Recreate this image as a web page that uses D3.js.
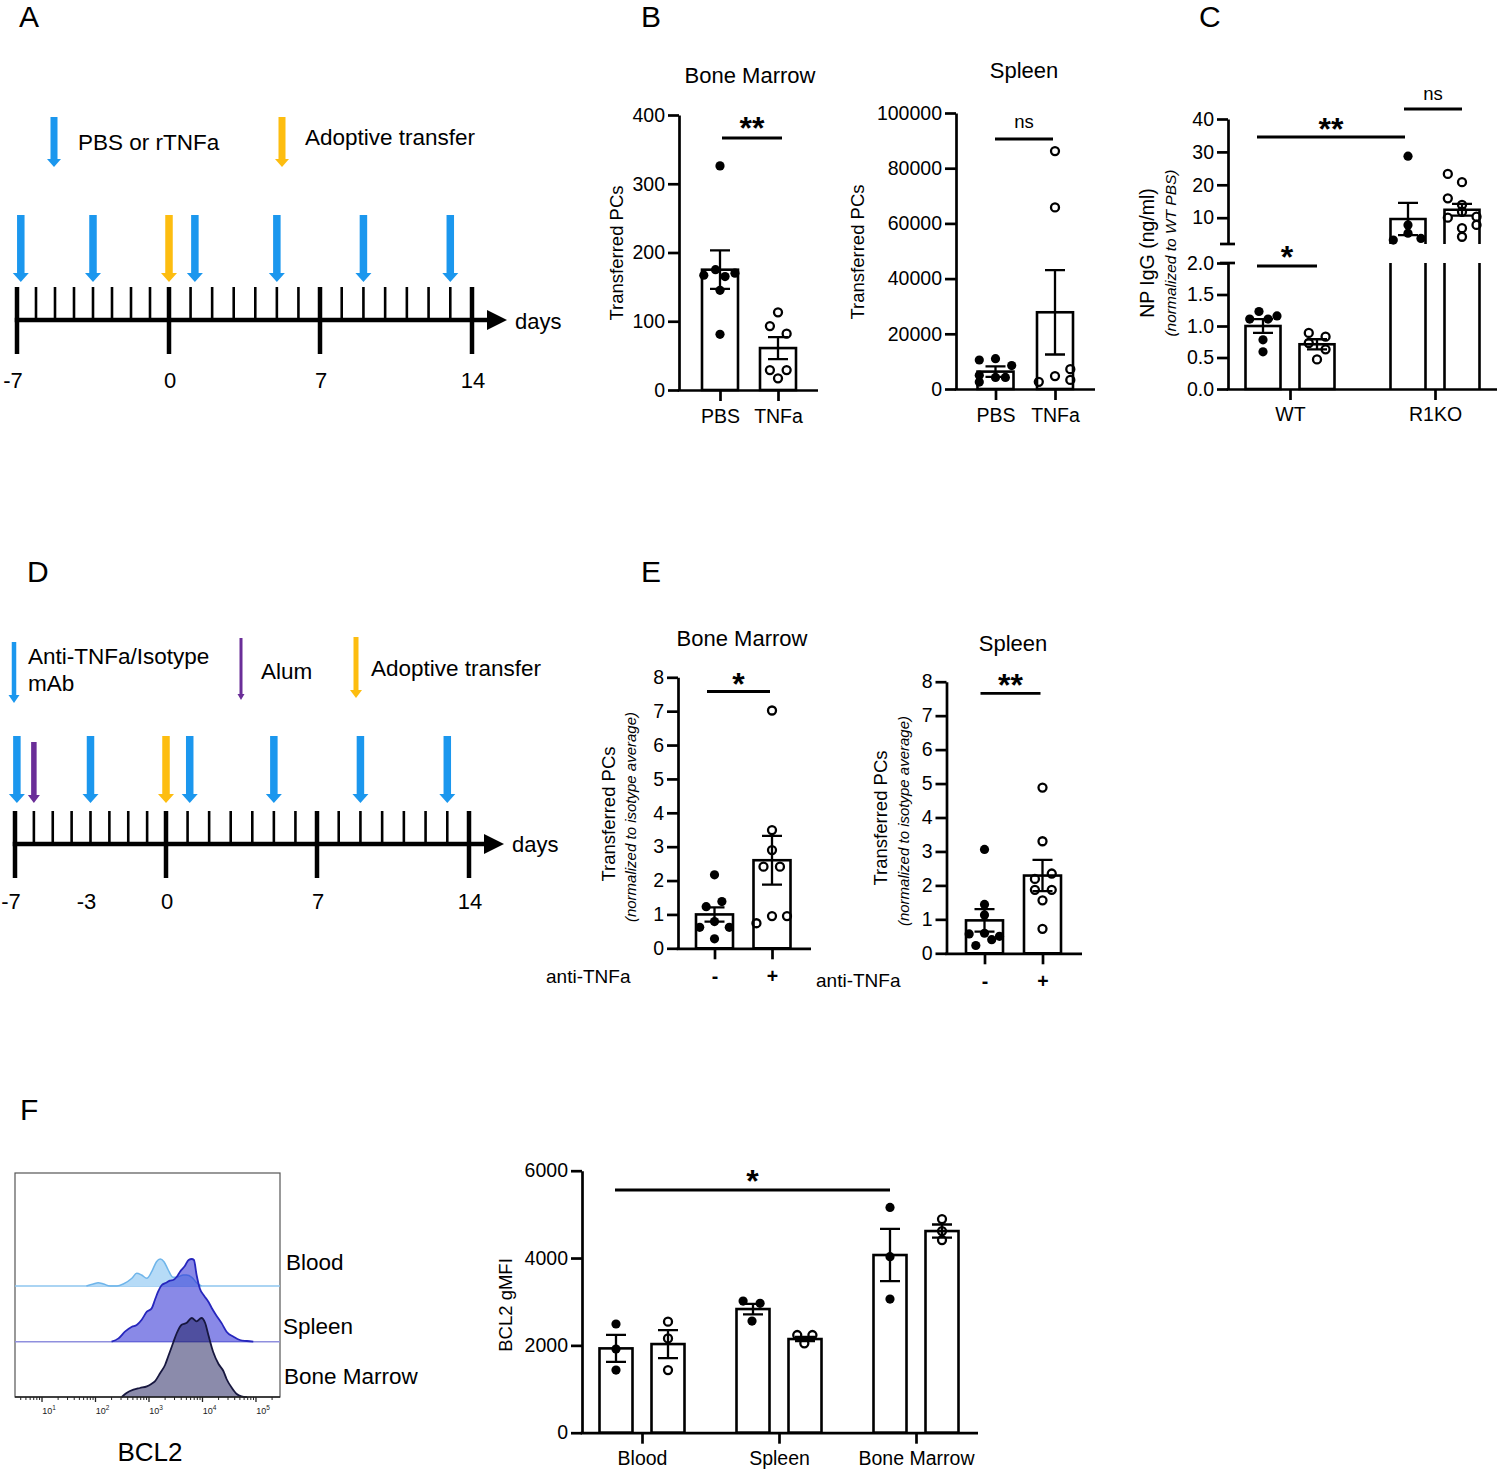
<!DOCTYPE html>
<html>
<head>
<meta charset="utf-8">
<script src="https://cdn.jsdelivr.net/npm/d3@7/dist/d3.min.js"></script>
<style>
html,body{margin:0;padding:0;background:#fff;}
svg{display:block;}
</style>
</head>
<body>
<svg id="fig" width="1500" height="1469" xmlns="http://www.w3.org/2000/svg"></svg>
<script>
// ================= DATA =================
// Timelines (A and D): tick index 0..22, majors at index 0,8,15,22
const tlMajorIdx = [0, 8, 15, 22];
const tlLabelsA = ["-7", "0", "7", "14"];
const tlLabelIdxA = [0, 8, 15, 22];
const tlLabelsD = ["-7", "-3", "0", "7", "14"];
const tlLabelIdxD = [0, 4, 8, 15, 22];
const aBlueIdx = [0.2, 4, 9.2, 13, 17, 21];
const aYellowIdx = [8];
const dBlueIdx = [0.1, 4, 9.1, 13, 17, 21];
const dPurpleIdx = [1];
const dYellowIdx = [8];

// Panel B
const bGroups = ["PBS", "TNFa"];
const bBmTicks = [0, 100, 200, 300, 400];
const bBmMean = [175, 61];
const bBmSem = [28, 16];
const bBmPbs = [326, 167, 175, 165, 170, 145, 81];
const bBmPbsJit = [0, -0.9, -0.25, 0.28, 0.83, 0, 0];
const bBmTnf = [113, 93, 82, 29, 29, 17];
const bBmTnfJit = [0, -0.45, 0.48, -0.45, 0.48, 0];

const bSpTicks = [0, 20000, 40000, 60000, 80000, 100000];
const bSpMean = [6300, 27800];
const bSpSem = [1900, 15300];
const bSpPbs = [10500, 11000, 8500, 5000, 4200, 4200, 2500];
const bSpPbsJit = [-0.9, 0, 0.9, -0.9, 0, 0.55, -0.9];
const bSpTnf = [86200, 65800, 2600, 4700, 7200, 3300];
const bSpTnfJit = [0, 0, -0.9, 0, 0.85, 0.85];

// Panel C
const cGroups = ["WT", "R1KO"];
const cSub = ["PBS", "TNFa"];
const cLowTicks = [0, 0.5, 1.0, 1.5, 2.0];
const cHighTicks = [10, 20, 30, 40];
const cWtMean = [1.0, 0.71];
const cWtSem = [0.11, 0.08];
const cKoMean = [9.6, 12.4];
const cKoSem = [4.9, 1.8];
const cWtPbs = [1.23, 1.11, 1.11, 1.16, 0.78, 0.59];
const cWtPbsJit = [-0.23, -0.76, 0.29, 0.8, 0, 0];
const cWtTnf = [0.89, 0.83, 0.73, 0.63, 0.47];
const cWtTnfJit = [-0.47, 0.49, -0.47, 0.49, 0];
const cKoPbs = [28.7, 7.8, 5.3, 3.2, 3.7];
const cKoPbsJit = [0, 0, 0, -0.84, 0.74];
const cKoTnf = [23.3, 20.8, 15.9, 13.9, 11.8, 10.0, 10.3, 7.8, 6.8, 4.2];
const cKoTnfJit = [-0.81, 0, -0.81, 0, 0, -0.81, 0.83, 0.83, 0, 0];

// Panel E
const eSub = ["-", "+"];
const eTicks = [0, 1, 2, 3, 4, 5, 6, 7, 8];
const eBmMean = [1.0, 2.6];
const eBmSem = [0.21, 0.72];
const eBmMinus = [2.17, 1.23, 1.38, 0.62, 0.62, 0.79, 0.28];
const eBmMinusJit = [0, -0.45, 0.4, -0.8, 0.8, 0, 0];
const eBmPlus = [7.02, 3.49, 2.9, 2.41, 2.41, 0.74, 0.95, 0.95];
const eBmPlusJit = [0, 0, 0, -0.46, 0.43, -0.84, 0, 0.81];
const eSpMean = [0.97, 2.29];
const eSpSem = [0.33, 0.46];
const eSpMinus = [3.06, 1.44, 1.13, 0.57, 0.59, 0.50, 0.40, 0.23];
const eSpMinusJit = [0, 0, 0, -0.83, 0, 0.81, 0.39, -0.47];
const eSpPlus = [4.88, 3.30, 2.19, 2.35, 1.87, 1.87, 1.56, 0.72];
const eSpPlusJit = [0, 0, -0.41, 0.5, -0.41, 0.5, 0, 0];

// Panel F bars
const fGroups = ["Blood", "Spleen", "Bone Marrow"];
const fSub = ["filled", "open"];
const fTicks = [0, 2000, 4000, 6000];
const fFilledMean = [1931, 2832, 4069];
const fFilledSem = [310, 120, 600];
const fOpenMean = [2030, 2145, 4618];
const fOpenSem = [320, 50, 150];
const fFilledPts = [[2489, 1916, 1435], [3015, 2962, 2557], [5160, 4031, 3061]];
const fFilledJit = [[0, 0, 0], [-0.6, 0.43, -0.06], [0, 0, 0]];
const fOpenPts = [[2542, 2160, 1435], [2237, 2237, 2046], [4893, 4618, 4412]];
const fOpenJit = [[0, 0, 0], [-0.47, 0.45, -0.04], [0, 0, 0]];

// Panel F histograms (log10 BCL2, relative count)
const histDecades = [1, 2, 3, 4, 5];
const histBloodLog = [1.83,1.96,2.05,2.15,2.27,2.40,2.52,2.68,2.77,2.86,2.96,3.05,3.14,3.21,3.28,3.36,3.45,3.55,3.64,3.70,3.80,3.89,3.98];
const histBloodCnt = [0,2,3.3,2,0,0,2,7.7,12.7,11,7.7,14.3,24.3,27,24.3,16,8.7,9.3,11,11,8.7,3.3,0];
const histSpleenLog = [2.30,2.43,2.55,2.68,2.77,2.86,2.96,3.05,3.11,3.17,3.24,3.32,3.39,3.45,3.52,3.58,3.67,3.74,3.80,3.84,3.89,3.95,4.03,4.11,4.17,4.25,4.36,4.45,4.58,4.70,4.83,4.95];
const histSpleenCnt = [0,3.3,10,15,16.7,21.7,30,33.3,41.7,50,56.7,59,61,61.7,65,70,75.7,81.7,82.7,81.7,66.7,53.3,46,40,34,27,18.3,10,5,1.7,0.7,0];
const histBmLog = [2.49,2.58,2.71,2.83,2.96,3.05,3.11,3.21,3.30,3.36,3.45,3.52,3.61,3.70,3.80,3.89,3.98,4.05,4.11,4.20,4.30,4.39,4.45,4.55,4.64,4.73,4.83];
const histBmCnt = [0,4,7.3,9,10.7,13.3,15.7,24,32,40.7,54,64,72.3,74,79,75.7,79,74,62,45,33,26,18,9,3,0.7,0];

// ================= DRAWING =================
const FONT = '"Liberation Sans", Arial, Helvetica, sans-serif';
const BLUE = "#1B97EE", YELLOW = "#FDBD10", PURPLE = "#6A2E98";
const AXW = 2.7, BARW = 2.6, ERRW = 2.3;
const svg = d3.select("#fig");
svg.append("rect").attr("width", 1500).attr("height", 1469).attr("fill", "#fff");

function txt(x, y, s, size, o = {}) {
  const t = svg.append("text").attr("x", x).attr("y", y).text(s)
    .attr("font-family", FONT).attr("font-size", size).attr("fill", "#000")
    .attr("text-anchor", o.anchor || "start")
    .attr("dominant-baseline", o.baseline || "central");
  if (o.weight) t.attr("font-weight", o.weight);
  if (o.italic) t.attr("font-style", "italic");
  if (o.rotate) t.attr("transform", `rotate(-90,${x},${y})`);
  return t;
}

function styleAxis(g, fs) {
  g.attr("font-family", FONT).attr("font-size", fs || 19.5);
  g.selectAll("path.domain").attr("stroke", "#000").attr("stroke-width", AXW);
  g.selectAll(".tick line").attr("stroke", "#000").attr("stroke-width", AXW);
  g.selectAll(".tick text").attr("fill", "#000");
}
function yAxis(scale, x, ticks, fmt) {
  const ax = d3.axisLeft(scale).tickValues(ticks).tickFormat(fmt).tickSize(11).tickPadding(3).tickSizeOuter(0);
  const g = svg.append("g").attr("transform", `translate(${x},0)`).call(ax);
  styleAxis(g);
  return g;
}
function xAxis(scale, y, x0, x1, pad, o = {}) {
  const ax = d3.axisBottom(scale).tickSize(11).tickPadding(pad).tickSizeOuter(0);
  const g = svg.append("g").attr("transform", `translate(0,${y})`).call(ax);
  g.select(".domain").remove();
  styleAxis(g, o.fs);
  if (o.weight) g.selectAll(".tick text").attr("font-weight", o.weight);
  svg.append("line").attr("x1", x0 - AXW / 2).attr("x2", x1).attr("y1", y + 0.5).attr("y2", y + 0.5)
    .attr("stroke", "#000").attr("stroke-width", AXW);
  return g;
}
function bar(cx, w, yTop, yBase) {
  svg.append("rect").attr("x", cx - w / 2).attr("y", yTop).attr("width", w).attr("height", yBase - yTop)
    .attr("fill", "#fff").attr("stroke", "#000").attr("stroke-width", BARW);
}
function err(cx, yHi, yLo, cap) {
  svg.append("path").attr("d", `M${cx},${yHi}V${yLo}M${cx - cap},${yHi}H${cx + cap}M${cx - cap},${yLo}H${cx + cap}`)
    .attr("fill", "none").attr("stroke", "#000").attr("stroke-width", ERRW);
}
function pts(cx, hw, vals, jit, yf, filled) {
  vals.forEach((v, i) => {
    const c = svg.append("circle").attr("cx", cx + jit[i] * hw).attr("cy", yf(v));
    if (filled) c.attr("r", 4.6).attr("fill", "#000");
    else c.attr("r", 4.0).attr("fill", "none").attr("stroke", "#000").attr("stroke-width", 2.3);
  });
}
function sig(x1, x2, y, label, ty, size, weight) {
  svg.append("line").attr("x1", x1).attr("x2", x2).attr("y1", y).attr("y2", y).attr("stroke", "#000").attr("stroke-width", 2.8);
  txt((x1 + x2) / 2, ty, label, size, { anchor: "middle", weight: weight });
}
function arrow(x, top, tip, sw, hw, hl, color) {
  svg.append("path").attr("d",
    `M${x - sw / 2},${top}L${x + sw / 2},${top}L${x + sw / 2},${tip - hl}L${x + hw / 2},${tip - hl}L${x},${tip}L${x - hw / 2},${tip - hl}L${x - sw / 2},${tip - hl}Z`)
    .attr("fill", color);
}
function timeline(o) {
  const sc = o.scale;
  svg.append("line").attr("x1", sc(0) - 2.25).attr("x2", o.tip - 16).attr("y1", o.y).attr("y2", o.y)
    .attr("stroke", "#000").attr("stroke-width", 4.5);
  svg.append("path").attr("d", `M${o.tip - 20},${o.y - 10}L${o.tip},${o.y}L${o.tip - 20},${o.y + 10}Z`).attr("fill", "#000");
  d3.range(0, 23).forEach(i => {
    const maj = tlMajorIdx.includes(i);
    svg.append("line").attr("x1", sc(i)).attr("x2", sc(i)).attr("y1", o.y - 33).attr("y2", maj ? o.y + 34 : o.y)
      .attr("stroke", "#000").attr("stroke-width", maj ? 4.5 : 2.6);
  });
  o.labelIdx.forEach((idx, k) => {
    const s = o.labels[k];
    txt(sc(idx) + (s.startsWith("-") ? -4 : 1), o.labelY, s, 22, { anchor: "middle" });
  });
  txt(o.tip + 8, o.daysY, "days", 22, { baseline: "alphabetic" });
}

// ---------- Panel letters ----------
[["A", 19, 16], ["B", 641, 16], ["C", 1199, 16], ["D", 27, 571], ["E", 641, 571], ["F", 20, 1109]]
  .forEach(([s, x, y]) => txt(x, y, s, 30));

// ---------- Panel A ----------
const tlA = d3.scaleLinear().domain([0, 8, 15, 22]).range([17, 169, 320, 472]);
arrow(54, 117, 167, 7, 14, 8, BLUE);
txt(78, 142, "PBS or rTNFa", 22.5);
arrow(282, 117, 167, 7, 14, 8, YELLOW);
txt(305, 137, "Adoptive transfer", 22.5);
timeline({ scale: tlA, y: 320, tip: 507, labels: tlLabelsA, labelIdx: tlLabelIdxA, labelY: 380, daysY: 329 });
aBlueIdx.forEach(i => arrow(tlA(i), 215, 282, 7.5, 16, 9, BLUE));
aYellowIdx.forEach(i => arrow(tlA(i), 215, 282, 7.5, 16, 9, YELLOW));

// ---------- Panel D ----------
const tlD = d3.scaleLinear().domain([0, 8, 15, 22]).range([15, 166, 317, 469]);
arrow(14, 642, 703, 4.5, 11, 8, BLUE);
txt(28, 656, "Anti-TNFa/Isotype", 22.5);
txt(28, 683, "mAb", 22.5);
arrow(241, 638, 700, 3, 7, 6, PURPLE);
txt(261, 671, "Alum", 22.5);
arrow(356, 637, 698, 5, 12, 8, YELLOW);
txt(371, 668, "Adoptive transfer", 22.5);
timeline({ scale: tlD, y: 844, tip: 504, labels: tlLabelsD, labelIdx: tlLabelIdxD, labelY: 901, daysY: 852 });
dBlueIdx.forEach(i => arrow(tlD(i), 736, 803, 7.5, 16, 9, BLUE));
dPurpleIdx.forEach(i => arrow(tlD(i), 742, 803, 5.5, 12, 8, PURPLE));
dYellowIdx.forEach(i => arrow(tlD(i), 736, 803, 7.5, 16, 9, YELLOW));

// ---------- Panel B: Bone Marrow ----------
{
  const y = d3.scaleLinear().domain([0, 400]).range([390, 115]);
  const x = d3.scalePoint().domain(bGroups).range([720, 778]);
  const bw = 36;
  txt(750, 75, "Bone Marrow", 22, { anchor: "middle" });
  bGroups.forEach((g, i) => bar(x(g), bw, y(bBmMean[i]), y(0)));
  bGroups.forEach((g, i) => err(x(g), y(bBmMean[i] + bBmSem[i]), y(bBmMean[i] - bBmSem[i]), 10));
  pts(x("PBS"), bw / 2, bBmPbs, bBmPbsJit, y, true);
  pts(x("TNFa"), bw / 2, bBmTnf, bBmTnfJit, y, false);
  yAxis(y, 679, bBmTicks, d3.format("d"));
  xAxis(x, 390, 679, 818, 8);
  txt(616, 253, "Transferred PCs", 18.5, { anchor: "middle", rotate: true });
  sig(722, 782, 138, "**", 128, 32, "bold");
}
// ---------- Panel B: Spleen ----------
{
  const y = d3.scaleLinear().domain([0, 100000]).range([389, 113]);
  const x = d3.scalePoint().domain(bGroups).range([995.5, 1055]);
  const bw = 36;
  txt(1024, 70, "Spleen", 22, { anchor: "middle" });
  bGroups.forEach((g, i) => bar(x(g), bw, y(bSpMean[i]), y(0)));
  bGroups.forEach((g, i) => err(x(g), y(bSpMean[i] + bSpSem[i]), y(bSpMean[i] - bSpSem[i]), 10));
  pts(x("PBS"), bw / 2, bSpPbs, bSpPbsJit, y, true);
  pts(x("TNFa"), bw / 2, bSpTnf, bSpTnfJit, y, false);
  yAxis(y, 956, bSpTicks, d3.format("d"));
  xAxis(x, 389, 956, 1095, 8);
  txt(857, 252, "Transferred PCs", 18.5, { anchor: "middle", rotate: true });
  sig(995, 1053, 139, "ns", 121, 18.5);
}

// ---------- Panel C ----------
{
  const yL = d3.scaleLinear().domain([0, 2]).range([389, 263]);
  const yH = d3.scaleLinear().domain([2, 40]).range([244, 119]);
  const yC = v => (v <= 2 ? yL(v) : yH(v));
  const x = d3.scalePoint().domain(cGroups).range([1290, 1435]);
  const sub = d3.scalePoint().domain(cSub).range([-27, 27]);
  const bw = 35;
  function cBar(cx, v) {
    const l = cx - bw / 2, r = cx + bw / 2;
    if (v <= 2) { bar(cx, bw, yL(v), yL(0)); return; }
    svg.append("path").attr("d", `M${l},${yL(0)}V${yL(2)}M${r},${yL(0)}V${yL(2)}`)
      .attr("stroke", "#000").attr("stroke-width", BARW).attr("fill", "none");
    svg.append("path").attr("d", `M${l},${yH(2)}V${yH(v)}H${r}V${yH(2)}`)
      .attr("stroke", "#000").attr("stroke-width", BARW).attr("fill", "#fff");
  }
  const groups = [
    { g: "WT", mean: cWtMean, sem: cWtSem, p: [cWtPbs, cWtTnf], j: [cWtPbsJit, cWtTnfJit] },
    { g: "R1KO", mean: cKoMean, sem: cKoSem, p: [cKoPbs, cKoTnf], j: [cKoPbsJit, cKoTnfJit] }
  ];
  groups.forEach(G => cSub.forEach((s, k) => cBar(x(G.g) + sub(s), G.mean[k])));
  groups.forEach(G => cSub.forEach((s, k) => err(x(G.g) + sub(s), yC(G.mean[k] + G.sem[k]), yC(G.mean[k] - G.sem[k]), 10)));
  groups.forEach(G => cSub.forEach((s, k) => pts(x(G.g) + sub(s), bw / 2, G.p[k], G.j[k], yC, k === 0)));
  yAxis(yL, 1228, cLowTicks, d3.format(".1f"));
  yAxis(yH, 1228, cHighTicks, d3.format("d"));
  [244, 263].forEach(yy => svg.append("line").attr("x1", 1220).attr("x2", 1235).attr("y1", yy).attr("y2", yy)
    .attr("stroke", "#000").attr("stroke-width", AXW));
  xAxis(x, 389, 1228, 1497, 7);
  txt(1147, 253, "NP IgG (ng/ml)", 19.5, { anchor: "middle", rotate: true });
  txt(1170, 253, "(normalized to WT PBS)", 15.5, { anchor: "middle", rotate: true, italic: true });
  sig(1257, 1317, 266, "*", 257, 32, "bold");
  sig(1257, 1405, 137, "**", 129, 32, "bold");
  sig(1404, 1462, 109, "ns", 93, 18.5);
}

// ---------- Panel E ----------
function ePanel(o) {
  const y = d3.scaleLinear().domain([0, 8]).range([o.y0, o.y8]);
  const x = d3.scalePoint().domain(eSub).range(o.xr);
  const bw = 37;
  txt(o.titleX, o.titleY, o.title, 22, { anchor: "middle" });
  eSub.forEach((s, i) => bar(x(s), bw, y(o.mean[i]), y(0)));
  eSub.forEach((s, i) => err(x(s), y(o.mean[i] + o.sem[i]), y(o.mean[i] - o.sem[i]), 10));
  pts(x("-"), bw / 2, o.minus, o.minusJit, y, true);
  pts(x("+"), bw / 2, o.plus, o.plusJit, y, false);
  yAxis(y, o.ax, eTicks, d3.format("d"));
  xAxis(x, o.y0, o.ax, o.xEnd, 10, { weight: "bold" });
  txt(o.lab1, o.labY, "Transferred PCs", 18.5, { anchor: "middle", rotate: true });
  txt(o.lab2, o.labY + 3, "(normalized to isotype average)", 15, { anchor: "middle", rotate: true, italic: true });
  txt(o.antiX, o.antiY, "anti-TNFa", 19);
  sig(o.sig[0], o.sig[1], o.sig[2], o.sig[3], o.sig[4], 32, "bold");
}
ePanel({ title: "Bone Marrow", titleX: 742, titleY: 638, y0: 948.3, y8: 677.3, xr: [714.5, 772], ax: 678, xEnd: 811,
  mean: eBmMean, sem: eBmSem, minus: eBmMinus, minusJit: eBmMinusJit, plus: eBmPlus, plusJit: eBmPlusJit,
  lab1: 608, lab2: 630, labY: 814, antiX: 546, antiY: 976, sig: [707, 770, 691.5, "*", 684] });
ePanel({ title: "Spleen", titleX: 1013, titleY: 643, y0: 953.3, y8: 681.7, xr: [984.5, 1042.5], ax: 946.5, xEnd: 1082,
  mean: eSpMean, sem: eSpSem, minus: eSpMinus, minusJit: eSpMinusJit, plus: eSpPlus, plusJit: eSpPlusJit,
  lab1: 880, lab2: 903, labY: 818, antiX: 816, antiY: 980, sig: [980.5, 1040.5, 693.3, "**", 685] });

// ---------- Panel F: histogram ----------
{
  const hx = d3.scaleLog().domain([Math.pow(10, 0.495), Math.pow(10, 5.449)]).range([15, 280]);
  const hy = d3.scaleLinear().domain([0, 100]).range([0, 100]);
  svg.append("rect").attr("x", 15).attr("y", 1173).attr("width", 265).attr("height", 224)
    .attr("fill", "none").attr("stroke", "#555").attr("stroke-width", 1.2);
  const lanes = [
    { log: histBloodLog, cnt: histBloodCnt, base: 1286, fill: "#b6dbf7", stroke: "#6fb5ea", sw: 1.5, lineCol: "#8ec6ef" },
    { log: histSpleenLog, cnt: histSpleenCnt, base: 1341.7, fill: "rgba(40,40,212,0.55)", stroke: "#2626bd", sw: 1.8, lineCol: "#8f8fde" },
    { log: histBmLog, cnt: histBmCnt, base: 1397, fill: "rgba(19,19,83,0.49)", stroke: "#17173f", sw: 1.8, lineCol: null }
  ];
  lanes.forEach(L => {
    const data = L.log.map((v, i) => [v, L.cnt[i]]);
    if (L.lineCol) svg.append("line").attr("x1", 15).attr("x2", 280).attr("y1", L.base).attr("y2", L.base)
      .attr("stroke", L.lineCol).attr("stroke-width", 1.5);
    const area = d3.area().x(d => hx(Math.pow(10, d[0]))).y0(L.base).y1(d => L.base - hy(d[1])).curve(d3.curveMonotoneX);
    const line = d3.line().x(d => hx(Math.pow(10, d[0]))).y(d => L.base - hy(d[1])).curve(d3.curveMonotoneX);
    svg.append("path").attr("d", area(data)).attr("fill", L.fill);
    svg.append("path").attr("d", line(data)).attr("fill", "none").attr("stroke", L.stroke).attr("stroke-width", L.sw);
  });
  svg.append("line").attr("x1", 15).attr("x2", 280).attr("y1", 1397).attr("y2", 1397).attr("stroke", "#222").attr("stroke-width", 1.3);
  hx.ticks().filter(t => hx(t) >= 15 && hx(t) <= 280).forEach(t => {
    const maj = Math.abs(Math.log10(t) - Math.round(Math.log10(t))) < 1e-6;
    svg.append("line").attr("x1", hx(t)).attr("x2", hx(t)).attr("y1", 1397).attr("y2", 1397 + (maj ? 5 : 3))
      .attr("stroke", "#222").attr("stroke-width", maj ? 1.3 : 1);
  });
  histDecades.forEach(d => {
    const t = svg.append("text").attr("x", hx(Math.pow(10, d)) + 7).attr("y", 1414).attr("text-anchor", "middle")
      .attr("font-family", FONT).attr("font-size", 9).attr("fill", "#222");
    t.append("tspan").text("10");
    t.append("tspan").text(String(d)).attr("font-size", 6.5).attr("dy", -4);
  });
  txt(286, 1262, "Blood", 22.5);
  txt(283, 1326, "Spleen", 22.5);
  txt(284, 1376, "Bone Marrow", 22.5);
  txt(150, 1452, "BCL2", 26, { anchor: "middle" });
}

// ---------- Panel F: bars ----------
{
  const y = d3.scaleLinear().domain([0, 6000]).range([1432.7, 1170.7]);
  const x = d3.scalePoint().domain(fGroups).range([642, 916]);
  const sub = d3.scalePoint().domain(fSub).range([-26, 26]);
  const bw = 33;
  fGroups.forEach((g, i) => {
    bar(x(g) + sub("filled"), bw, y(fFilledMean[i]), y(0));
    bar(x(g) + sub("open"), bw, y(fOpenMean[i]), y(0));
  });
  fGroups.forEach((g, i) => {
    err(x(g) + sub("filled"), y(fFilledMean[i] + fFilledSem[i]), y(fFilledMean[i] - fFilledSem[i]), 10);
    err(x(g) + sub("open"), y(fOpenMean[i] + fOpenSem[i]), y(fOpenMean[i] - fOpenSem[i]), 10);
  });
  fGroups.forEach((g, i) => {
    pts(x(g) + sub("filled"), bw / 2, fFilledPts[i], fFilledJit[i], y, true);
    pts(x(g) + sub("open"), bw / 2, fOpenPts[i], fOpenJit[i], y, false);
  });
  yAxis(y, 582, fTicks, d3.format("d"));
  xAxis(x, 1432.7, 582, 978, 7.5);
  txt(505, 1305, "BCL2 gMFI", 18.5, { anchor: "middle", rotate: true });
  sig(615, 890, 1190, "*", 1181, 32, "bold");
}
</script>
</body>
</html>
